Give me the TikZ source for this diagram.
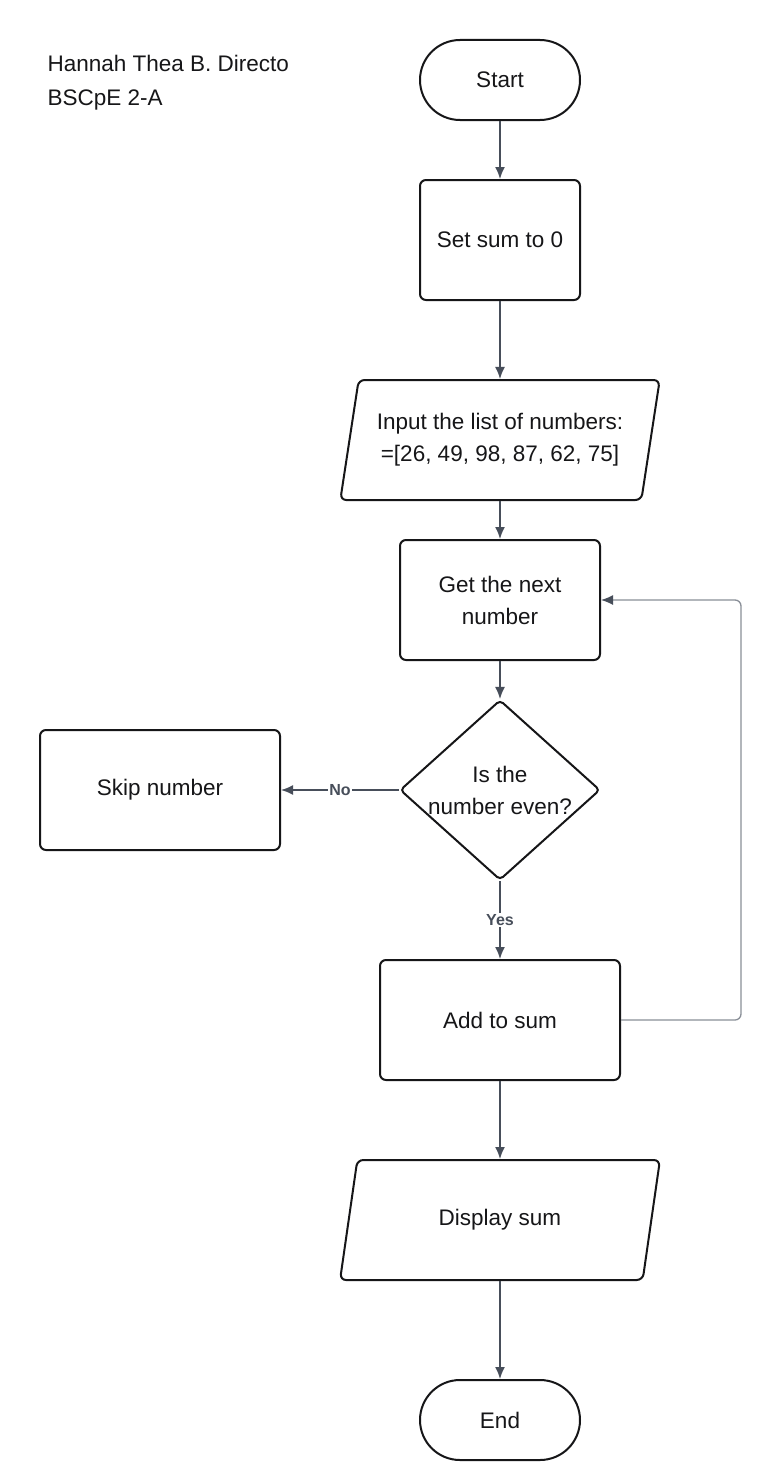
\documentclass[tikz,border=0pt]{standalone}
\usepackage{fontspec}
\setmainfont{Liberation Sans}
\usetikzlibrary{arrows.meta,positioning,shapes.geometric}
\definecolor{flowInk}{RGB}{22,22,24}
\definecolor{flowSlate}{RGB}{71,78,90}
\definecolor{loopGray}{RGB}{138,143,152}
\tikzset{
  boxtext/.style={font=\fontsize{22.5}{32}\selectfont,align=center,text=flowInk},
  procbox/.style={boxtext,draw=flowInk,line width=2pt,rounded corners=6pt,minimum height=120pt},
  termbox/.style={boxtext,draw=flowInk,line width=2pt,rounded corners=40pt,minimum width=160pt,minimum height=80pt},
  iobox/.style={boxtext,draw=flowInk,line width=2pt,rounded corners=6pt,trapezium,trapezium left angle=75,trapezium right angle=105,trapezium stretches=true,minimum width=320pt,minimum height=120pt,inner xsep=0pt},
  decbox/.style={boxtext,draw=flowInk,line width=2pt,rounded corners=4pt,diamond,aspect=1.11,inner sep=0pt,minimum width=200pt,minimum height=180pt},
  flowarrow/.style={draw=flowSlate,line width=1.6pt,-{Latex[length=12pt,width=10pt]}},
  looparrow/.style={draw=loopGray,line width=1.3pt,rounded corners=6pt,-{Latex[length=12pt,width=10pt,color=flowSlate]}},
  flowlabel/.style={fill=white,text=flowSlate,inner sep=1.5pt,font=\bfseries\fontsize{16}{18}\selectfont}
}

\begin{document}
\begin{tikzpicture}[x=1pt,y=-1pt]
\useasboundingbox[fill=white] (0,0) rectangle (780,1480);

\node[anchor=west,align=left,font=\fontsize{22.5}{34}\selectfont,text=flowInk] (author) at (44,83) {Hannah Thea B. Directo\\BSCpE 2-A};

\node[termbox] (start) at (500,80) {Start};
\node[procbox,minimum width=160pt] (setsum) at (500,240) {Set sum to 0};
\node[iobox] (input) at (500,440) {Input the list of numbers:\\=[26, 49, 98, 87, 62, 75]};
\node[procbox,minimum width=200pt] (next) at (500,600) {Get the next\\number};
\node[decbox] (even) at (500,790) {Is the\\number even?};
\node[procbox,minimum width=240pt] (skip) at (160,790) {Skip number};
\node[procbox,minimum width=240pt] (add) at (500,1020) {Add to sum};
\node[iobox] (show) at (500,1220) {Display sum};
\node[termbox] (end) at (500,1420) {End};

\draw[flowarrow] (start) -- (setsum);
\draw[flowarrow] (setsum) -- (input);
\draw[flowarrow] (input) -- (next);
\draw[flowarrow] (next) -- (even);
\draw[flowarrow] (even) -- node[flowlabel] {No} (skip);
\draw[flowarrow] (even) -- node[flowlabel] {Yes} (add);
\draw[looparrow] (add.east) -- ++(120,0) |- (next.east);
\draw[flowarrow] (add) -- (show);
\draw[flowarrow] (show) -- (end);
\end{tikzpicture}
\end{document}
